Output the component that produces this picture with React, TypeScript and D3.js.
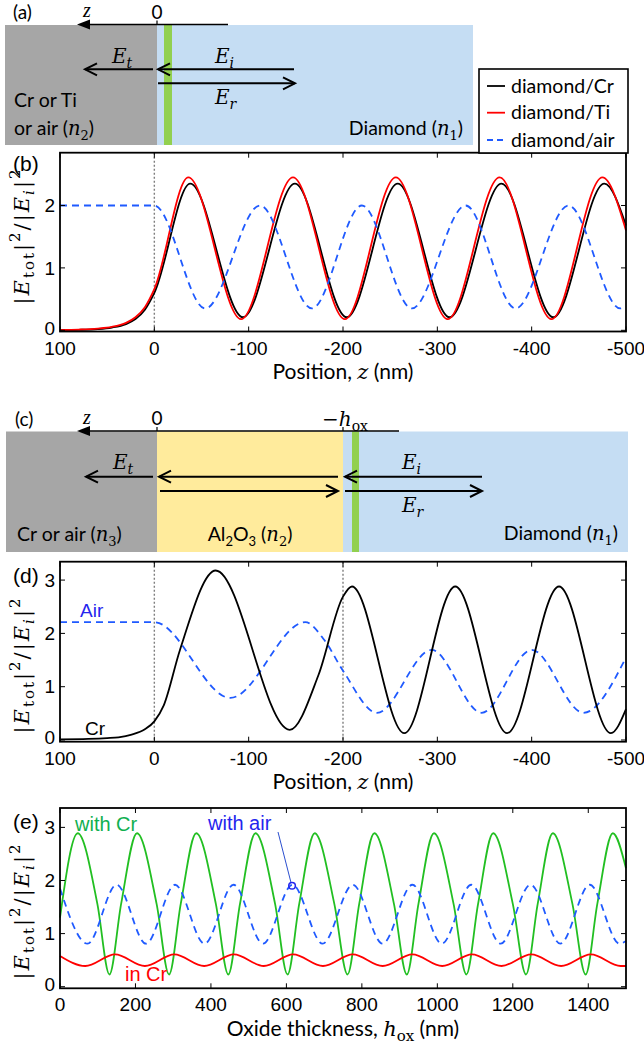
import React from "react";
import * as d3 from "d3";

// ---------------- data ----------------
const posTicks = [100, 0, -100, -200, -300, -400, -500];
const thickTicks = [0, 200, 400, 600, 800, 1000, 1200, 1400];
const yTicksB = [0, 1, 2];
const yTicksDE = [0, 1, 2, 3];
const legendLabels = ["diamond/Cr", "diamond/Ti", "diamond/air"];

// (b) diamond / metal or air, position z (nm)
const bCrZ = [100, 80, 60, 45, 30, 20, 10, 0, -38, -94, -149, -204, -258, -313, -368, -423, -477, -500];
const bCrV = [0.004, 0.008, 0.02, 0.045, 0.1, 0.18, 0.33, 0.6, 2.35, 0.21, 2.35, 0.21, 2.35, 0.21, 2.35, 0.21, 2.35, 1.68];
const bTiZ = [100, 80, 60, 45, 30, 20, 10, 0, -36, -92, -147, -202, -256, -311, -366, -421, -475, -500];
const bTiV = [0.006, 0.012, 0.028, 0.055, 0.12, 0.21, 0.37, 0.66, 2.45, 0.18, 2.45, 0.18, 2.45, 0.18, 2.45, 0.18, 2.45, 1.6];
const bAirZ = [100, 0, -54, -112, -167, -220, -273, -330, -383, -439, -494, -500];
const bAirV = [2, 2, 0.35, 2, 0.35, 2, 0.35, 2, 0.35, 2, 0.35, 0.38];

// (d) with Al2O3 layer (h_ox = 200 nm)
const dCrZ = [100, 70, 50, 38, 24, 10, 0, -10, -27, -65, -143.5, -174, -200, -209.5, -265, -319, -374, -429, -484, -500];
const dCrV = [0.012, 0.02, 0.035, 0.05, 0.1, 0.2, 0.35, 0.65, 1.68, 3.18, 0.19, 1.22, 2.69, 2.88, 0.13, 2.88, 0.13, 2.88, 0.13, 0.58];
const dAirZ = [100, 0, -80.5, -160, -180, -200, -236, -294, -347, -400, -455, -500];
const dAirV = [2.21, 2.21, 0.79, 2.21, 1.88, 1.3, 0.51, 1.69, 0.51, 1.69, 0.51, 1.55];

// (e) vs oxide thickness h_ox (nm)
const eCrX = [0, 47, 99, 131, 162, 204, 256, 289, 320, 361, 413, 446, 477, 518, 570, 603, 634, 675, 727, 762, 793, 833, 885, 919, 950, 991, 1043, 1077, 1108, 1148, 1200, 1235, 1266, 1306, 1358, 1393, 1424, 1465, 1500];
const eCrV = [1.3, 2.89, 1.56, 0.23, 1.56, 2.89, 1.56, 0.23, 1.56, 2.89, 1.56, 0.23, 1.56, 2.89, 1.56, 0.23, 1.56, 2.89, 1.56, 0.23, 1.56, 2.89, 1.56, 0.23, 1.56, 2.89, 1.56, 0.23, 1.56, 2.89, 1.56, 0.23, 1.56, 2.89, 1.56, 0.23, 1.56, 2.89, 2.23];
const eAirX = [0, 73, 150, 228, 305, 383, 460, 538, 616, 696, 776, 855, 934, 1012, 1090, 1168, 1247, 1326, 1404, 1483, 1500];
const eAirV = [1.85, 0.81, 1.92, 0.81, 1.92, 0.81, 1.92, 0.81, 1.92, 0.81, 1.92, 0.81, 1.92, 0.81, 1.92, 0.81, 1.92, 0.81, 1.92, 0.81, 0.86];
const eInX = [0, 67, 146, 225, 303, 382, 461, 540, 618, 697, 776, 855, 934, 1013, 1092, 1170, 1249, 1328, 1407, 1486, 1500];
const eInV = [0.58, 0.39, 0.61, 0.39, 0.61, 0.39, 0.61, 0.39, 0.61, 0.39, 0.61, 0.39, 0.61, 0.39, 0.61, 0.39, 0.61, 0.39, 0.61, 0.39, 0.39];
const airMarker = [615, 1.9];

// ---------------- style ----------------
const W = 644, H = 1049;
const PL = 60, PR = 626;
const SANS = "'Liberation Sans', Arial, sans-serif";
const CAL = "Lato, 'Open Sans', sans-serif";
const MATH = "'DejaVu Serif', 'Liberation Serif', serif";
const GRAY = "#a6a6a6", LBLUE = "#c5ddf3", YEL = "#ffeb9c", GREEN = "#92d050";
const DBLUE = "#1f5aff", TBLUE = "#2525ee", GLINE = "#22bf22", GTEXT = "#10b050", RED = "#ff0000";

type Series = { xs: number[]; ys: number[]; color: string; dash?: string };

function YLabel({ cy }: { cy: number }) {
  return (
    <text transform={`translate(29,${cy}) rotate(-90)`} textAnchor="middle" fontFamily={MATH} fontSize={21} letterSpacing={2}>
      <tspan>|</tspan>
      <tspan fontStyle="italic">E</tspan>
      <tspan fontSize={15} dy={5}>tot</tspan>
      <tspan dy={-5}>|</tspan>
      <tspan fontSize={15} dy={-9}>2</tspan>
      <tspan dy={9}>/</tspan>
      <tspan>|</tspan>
      <tspan fontStyle="italic">E</tspan>
      <tspan fontSize={15} dy={5} fontStyle="italic">i</tspan>
      <tspan dy={-5}>|</tspan>
      <tspan fontSize={15} dy={-9}>2</tspan>
    </text>
  );
}

function Plot(props: {
  top: number; bottom: number; xDomain: [number, number]; yDomain: [number, number];
  xTicks: number[]; yTicks: number[]; series: Series[]; vlines?: number[];
  label: string; labelY: number; yLabelCY: number; xTitle: React.ReactNode;
  extra?: (x: d3.ScaleLinear<number, number>, y: d3.ScaleLinear<number, number>) => React.ReactNode;
}) {
  const { top, bottom } = props;
  const x = d3.scaleLinear().domain(props.xDomain).range([PL, PR]);
  const y = d3.scaleLinear().domain(props.yDomain).range([bottom, top]);
  const line = d3.line<[number, number]>().x((d) => x(d[0])).y((d) => y(d[1])).curve(d3.curveMonotoneX);
  const tl = 5;
  return (
    <g>
      {(props.vlines || []).map((v, i) => (
        <line key={"v" + i} x1={x(v)} x2={x(v)} y1={top} y2={bottom} stroke="#7f7f7f" strokeWidth={1.4} strokeDasharray="2,2" />
      ))}
      {props.series.map((s, i) => (
        <path key={"s" + i} d={line(d3.zip(s.xs, s.ys) as [number, number][]) || ""} fill="none" stroke={s.color}
          strokeWidth={1.8} strokeDasharray={s.dash} />
      ))}
      <rect x={PL} y={top} width={PR - PL} height={bottom - top} fill="none" stroke="#000" strokeWidth={1.8} />
      {props.xTicks.map((t, i) => (
        <g key={"xt" + i}>
          <line x1={x(t)} x2={x(t)} y1={bottom} y2={bottom - tl} stroke="#000" strokeWidth={1} />
          <line x1={x(t)} x2={x(t)} y1={top} y2={top + tl} stroke="#000" strokeWidth={1} />
          <text x={x(t)} y={bottom + 23} textAnchor="middle" fontFamily={SANS} fontSize={19}>{String(t)}</text>
        </g>
      ))}
      {props.yTicks.map((t, i) => (
        <g key={"yt" + i}>
          <line x1={PL} x2={PL + tl} y1={y(t)} y2={y(t)} stroke="#000" strokeWidth={1} />
          <line x1={PR} x2={PR - tl} y1={y(t)} y2={y(t)} stroke="#000" strokeWidth={1} />
          <text x={55} y={y(t) + (t === 0 ? 4.5 : 6.8)} textAnchor="end" fontFamily={SANS} fontSize={19}>{String(t)}</text>
        </g>
      ))}
      <text x={13} y={props.labelY} fontFamily={SANS} fontSize={21}>{props.label}</text>
      <YLabel cy={props.yLabelCY} />
      <text x={(PL + PR) / 2} y={bottom + 47.5} textAnchor="middle" fontFamily={CAL} fontSize={21}>{props.xTitle}</text>
      {props.extra ? props.extra(x, y) : null}
    </g>
  );
}

function Arrow({ x1, x2, y }: { x1: number; x2: number; y: number }) {
  const d = Math.sign(x2 - x1);
  return (
    <g fill="none" stroke="#000" strokeWidth={2}>
      <line x1={x1} x2={x2} y1={y} y2={y} />
      <path d={`M${x2 - d * 12},${y - 6} L${x2},${y} L${x2 - d * 12},${y + 6}`} />
    </g>
  );
}

function EVec({ x, y, sub }: { x: number; y: number; sub: string }) {
  return (
    <text x={x} y={y} fontFamily={MATH} fontSize={20} fontStyle="italic">
      E<tspan fontSize={14} dy={5}>{sub}</tspan>
    </text>
  );
}

function NSub({ k }: { k: string }) {
  return (
    <>
      <tspan fontFamily={MATH} fontStyle="italic">n</tspan>
      <tspan fontFamily={MATH} fontSize={13} dy={5}>{k}</tspan>
      <tspan dy={-5}>)</tspan>
    </>
  );
}

function ZAxis({ y, x2, ticks }: { y: number; x2: number; ticks: number[] }) {
  return (
    <g>
      <line x1={88} x2={x2} y1={y} y2={y} stroke="#000" strokeWidth={1.5} />
      <path d={`M77,${y} L90,${y - 5} L90,${y + 5} Z`} fill="#000" />
      {ticks.map((t, i) => (
        <line key={i} x1={t} x2={t} y1={y} y2={y - 4} stroke="#000" strokeWidth={1.2} />
      ))}
      <text x={83} y={y - 7.5} fontFamily="'Liberation Serif', serif" fontStyle="italic" fontSize={20}>z</text>
      <text x={157} y={y - 6} textAnchor="middle" fontFamily={CAL} fontSize={19}>0</text>
    </g>
  );
}

function DiagramA() {
  const t = 25, b = 145;
  return (
    <g>
      <rect x={5} y={t} width={152} height={b - t} fill={GRAY} />
      <rect x={157} y={t} width={316} height={b - t} fill={LBLUE} />
      <rect x={164} y={t} width={8} height={b - t} fill={GREEN} />
      <ZAxis y={24.5} x2={228} ticks={[157]} />
      <text x={13} y={19} fontFamily={CAL} fontSize={19}>(a)</text>
      <Arrow x1={153} x2={85} y={69.3} />
      <Arrow x1={294} x2={158} y={69.3} />
      <Arrow x1={158} x2={295} y={83.3} />
      <EVec x={112} y={63} sub="t" />
      <EVec x={215} y={63} sub="i" />
      <EVec x={215} y={104} sub="r" />
      <text x={14} y={107} fontFamily={CAL} fontSize={19.5}>Cr or Ti</text>
      <text x={14} y={135} fontFamily={CAL} fontSize={19.5}>{"or air ("}<NSub k="2" /></text>
      <text x={463} y={135} textAnchor="end" fontFamily={CAL} fontSize={19.5}>{"Diamond ("}<NSub k="1" /></text>
    </g>
  );
}

function DiagramC() {
  const t = 431.5, b = 552;
  return (
    <g>
      <rect x={6} y={t} width={151} height={b - t} fill={GRAY} />
      <rect x={157} y={t} width={186} height={b - t} fill={YEL} />
      <rect x={343} y={t} width={285} height={b - t} fill={LBLUE} />
      <rect x={352} y={t} width={7} height={b - t} fill={GREEN} />
      <ZAxis y={431} x2={399} ticks={[157, 343]} />
      <text x={322} y={426} fontFamily={MATH} fontSize={20}>
        −<tspan fontStyle="italic">h</tspan><tspan fontSize={14} dy={5}>ox</tspan>
      </text>
      <text x={15} y={426} fontFamily={CAL} fontSize={19}>(c)</text>
      <Arrow x1={153} x2={86} y={476.7} />
      <Arrow x1={338} x2={159} y={476.7} />
      <Arrow x1={160} x2={338} y={491} />
      <Arrow x1={482} x2={345} y={476.7} />
      <Arrow x1={345} x2={482} y={491} />
      <EVec x={113} y={469} sub="t" />
      <EVec x={402} y={469} sub="i" />
      <EVec x={402} y={512} sub="r" />
      <text x={17} y={541} fontFamily={CAL} fontSize={19.5}>{"Cr or air ("}<NSub k="3" /></text>
      <text x={250} y={541} textAnchor="middle" fontFamily={CAL} fontSize={19.5}>
        Al<tspan fontSize={13} dy={5}>2</tspan><tspan dy={-5}>O</tspan><tspan fontSize={13} dy={5}>3</tspan>
        <tspan dy={-5}>{" ("}</tspan><NSub k="2" />
      </text>
      <text x={618} y={540} textAnchor="end" fontFamily={CAL} fontSize={19.5}>{"Diamond ("}<NSub k="1" /></text>
    </g>
  );
}

function Legend() {
  const colors = ["#000", RED, DBLUE];
  const dashes = [undefined, undefined, "6,4"];
  const ys = [86, 112.7, 140];
  return (
    <g>
      <rect x={479} y={69} width={149} height={84} fill="#fff" stroke="#000" strokeWidth={1.6} />
      {legendLabels.map((l, i) => (
        <g key={l}>
          <line x1={487} x2={505} y1={ys[i]} y2={ys[i]} stroke={colors[i]} strokeWidth={1.8} strokeDasharray={dashes[i]} />
          <text x={511} y={ys[i] + 6.5} fontFamily={CAL} fontSize={19.5}>{l}</text>
        </g>
      ))}
    </g>
  );
}

export default function App() {
  const posTitle = (
    <>
      {"Position, "}<tspan fontFamily={MATH} fontStyle="italic">z</tspan>{" (nm)"}
    </>
  );
  const thickTitle = (
    <>
      {"Oxide thickness, "}<tspan fontFamily={MATH} fontStyle="italic">h</tspan>
      <tspan fontFamily={MATH} fontSize={15} dy={5}>ox</tspan><tspan dy={-5}>{" (nm)"}</tspan>
    </>
  );
  return (
    <svg width={W} height={H} style={{ position: "absolute", left: 0, top: 0, background: "#fff" }}>
      <rect width={W} height={H} fill="#fff" />
      <DiagramA />
      <Plot top={152.7} bottom={331.5} xDomain={[100, -500]} yDomain={[-0.019, 2.846]}
        xTicks={posTicks} yTicks={yTicksB} vlines={[0]} label="(b)" labelY={171} yLabelCY={236}
        xTitle={posTitle}
        series={[
          { xs: bCrZ, ys: bCrV, color: "#000" },
          { xs: bTiZ, ys: bTiV, color: RED },
          { xs: bAirZ, ys: bAirV, color: DBLUE, dash: "7,5" },
        ]} />
      <Legend />
      <DiagramC />
      <Plot top={561.7} bottom={741.7} xDomain={[100, -500]} yDomain={[-0.032, 3.345]}
        xTicks={posTicks} yTicks={yTicksDE} vlines={[0, -200]} label="(d)" labelY={583} yLabelCY={665}
        xTitle={posTitle}
        series={[
          { xs: dAirZ, ys: dAirV, color: DBLUE, dash: "7,5" },
          { xs: dCrZ, ys: dCrV, color: "#000" },
        ]}
        extra={() => (
          <g fontFamily={SANS} fontSize={19}>
            <text x={80} y={617} fill={TBLUE}>Air</text>
            <text x={85} y={735} fill="#000">Cr</text>
          </g>
        )} />
      <Plot top={808} bottom={988.3} xDomain={[0, 1500]} yDomain={[-0.03, 3.365]}
        xTicks={thickTicks} yTicks={yTicksDE} label="(e)" labelY={829} yLabelCY={911}
        xTitle={thickTitle}
        series={[
          { xs: eCrX, ys: eCrV, color: GLINE },
          { xs: eAirX, ys: eAirV, color: DBLUE, dash: "7,5" },
          { xs: eInX, ys: eInV, color: RED },
        ]}
        extra={(x, y) => (
          <g fontFamily={SANS} fontSize={20}>
            <text x={75} y={831} fill={GTEXT}>with Cr</text>
            <text x={208} y={830} fill={TBLUE}>with air</text>
            <text x={125} y={981} fill={RED}>in Cr</text>
            <line x1={278} y1={832} x2={x(airMarker[0]) - 1} y2={y(airMarker[1]) - 3} stroke="#2b4fcf" strokeWidth={1} />
            <circle cx={x(airMarker[0])} cy={y(airMarker[1])} r={3.3} fill="none" stroke={TBLUE} strokeWidth={1.5} />
          </g>
        )} />
    </svg>
  );
}
